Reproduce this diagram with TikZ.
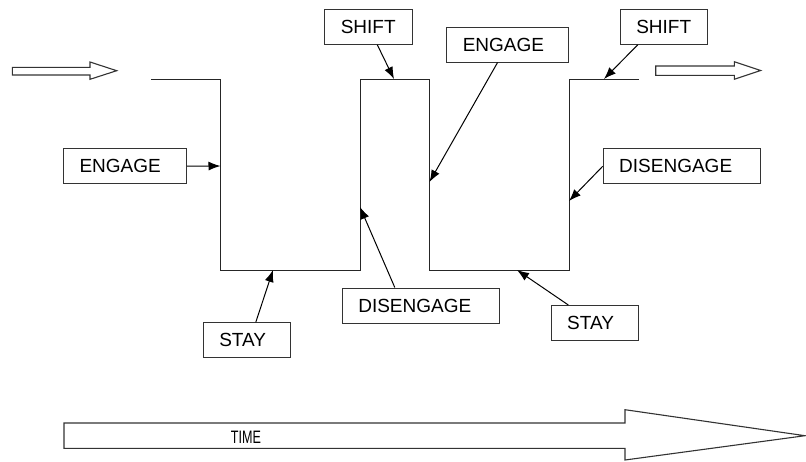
\documentclass[tikz,border=0pt]{standalone}
\usepackage{graphicx}
\usepackage{fontspec}
\setmainfont{Liberation Sans}
\usetikzlibrary{arrows.meta}

\begin{document}
\begin{tikzpicture}[x=1pt, y=-1pt,
    tag/.style = {draw=black!80, line width=1pt, inner xsep=16pt, inner ysep=0pt,
                  minimum height=35pt, text width=#1, align=left,
                  font=\fontsize{19}{22}\selectfont},
    wave/.style = {draw=black!85, line width=1pt},
    pointer/.style = {-{Latex[length=12pt,width=9pt]}, line width=1pt},
    fat/.style = {draw=black!80, line width=1.1pt, line join=miter}]
\useasboundingbox (0,0) rectangle (806,461);
% the signal
\coordinate (w0) at (151,79);
\coordinate (w1) at (220.5,79);
\coordinate (w2) at (220.5,270);
\coordinate (w3) at (360,270);
\coordinate (w4) at (360,79);
\coordinate (w5) at (429.5,79);
\coordinate (w6) at (429.5,270);
\coordinate (w7) at (569,270);
\coordinate (w8) at (569,79);
\coordinate (w9) at (639,79);
\draw[wave] (w0) -- (w1) -- (w2) -- (w3) -- (w4) -- (w5) -- (w6) -- (w7) -- (w8) -- (w9);
% where the labels point
\coordinate (tEngA)   at (220.5,166);
\coordinate (tShiftA) at (394,79);
\coordinate (tEngB)   at (429.5,182);
\coordinate (tShiftB) at (604,79);
\coordinate (tDisB)   at (569,201);
\coordinate (tStayA)  at (273,270);
\coordinate (tDisA)   at (360,207);
\coordinate (tStayB)  at (517,270);
% labels
\node[tag=91pt]  (engA)   at (125,166.2)   {ENGAGE};
\node[tag=55.5pt] (shiftA) at (368.5,26.8) {SHIFT};
\node[tag=90pt]  (engB)   at (507.8,44.5)  {ENGAGE};
\node[tag=55.5pt] (shiftB) at (664,26.8)   {SHIFT};
\node[tag=125pt] (disB)   at (681.7,166.3) {DISENGAGE};
\node[tag=55pt]  (stayA)  at (246.8,340.2) {STAY};
\node[tag=125pt] (disA)   at (420.8,305.5) {DISENGAGE};
\node[tag=55pt]  (stayB)  at (594.7,323)   {STAY};
\draw[pointer] (engA.east) -- (tEngA);
\draw[pointer] (shiftA) -- (tShiftA);
\draw[pointer] (engB) -- (tEngB);
\draw[pointer] ([xshift=18pt]shiftB.south west) -- (tShiftB);
\draw[pointer] (disB.west) -- (tDisB);
\draw[pointer] ([xshift=9pt]stayA.north) -- (tStayA);
\draw[pointer] ([xshift=-26pt]disA.north) -- (tDisA);
\draw[pointer] (stayB) -- (tStayB);
% in and out
\draw[fat] (12.3,67.3) -- (90,67.3) -- (90,62) -- (116.7,70.7) -- (90,79.3) -- (90,75) -- (12.3,75) -- cycle;
\draw[fat] (655.7,66) -- (734.3,66) -- (734.3,61.7) -- (760.7,70.5) -- (734.3,79.3) -- (734.3,75.3) -- (655.7,75.3) -- cycle;
% time axis
\draw[fat] (64,423) -- (625,423) -- (625,409.7) -- (805,435.7) -- (625,460) -- (625,448.3) -- (64,448.3) -- cycle;
\node[font=\fontsize{18}{20}\selectfont] (time) at (246,437) {\scalebox{0.7}[1]{TIME}};
\end{tikzpicture}
\end{document}
